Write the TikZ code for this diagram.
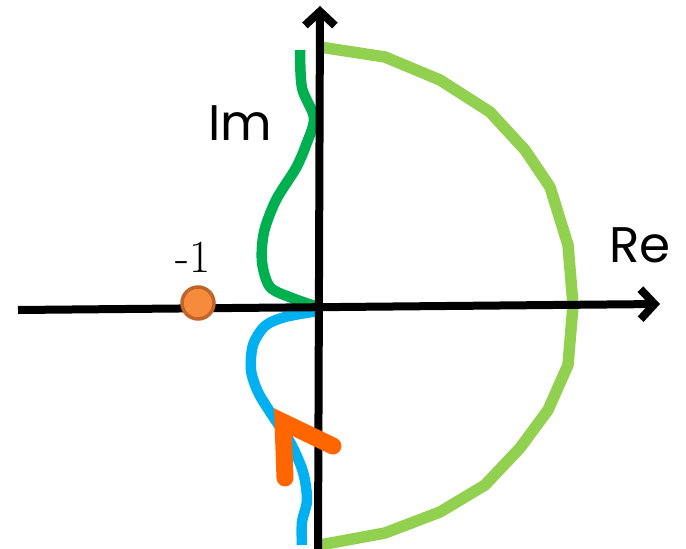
\documentclass[tikz,border=0pt]{standalone}
\usepackage{fontspec}
\newfontfamily\axfont{Poppins}
\usetikzlibrary{arrows.meta}
\definecolor{lgreen}{HTML}{92D050}
\definecolor{dgreen}{HTML}{00B050}
\definecolor{lblue}{HTML}{00B0F0}
\definecolor{arrorange}{HTML}{FF6600}
\definecolor{ptfill}{HTML}{F68B3C}
\definecolor{ptdraw}{HTML}{C0642A}
\tikzset{
  axis/.style={line width=8pt,-{Straight Barb[length=14pt,width=30pt,line width=8pt]}},
  curve/.style={line width=10.5pt,line join=round},
  lab/.style={font=\axfont\fontsize{50}{50}\selectfont,inner sep=0pt},
}
\begin{document}
\begin{tikzpicture}[x=1pt,y=-1pt]
\useasboundingbox (0,0) rectangle (686,549);
% semicircle
\draw[curve,lgreen,line width=11.5pt] (320,47) -- (385,57) -- (440,80) -- (490,112) -- (525,150) -- (550,187) -- (568,245) -- (573,305) -- (568,365) -- (548,410) -- (520,448) -- (485,485) -- (440,512) -- (385,533) -- (320,545);
% dark green
\draw[curve,dgreen] plot[smooth,tension=0.5] coordinates {(300,50) (302,88) (314,118) (306,145) (296,168) (276,200) (264,232) (262,262) (270,287) (292,298) (318,307)};
% blue
\draw[curve,lblue] plot[smooth,tension=0.5] coordinates {(318,311) (285,317) (265,326) (253,345) (251,370) (258,392) (272,415) (290,442) (303,472) (307,500) (302,522) (302,545)};
% axes
\coordinate (xs) at (18,310);
\coordinate (xe) at (660,304);
\coordinate (ys) at (318,549);
\coordinate (ye) at (320,6);
\draw[axis] (xs) -- (xe);
\draw[axis] (ys) -- (ye);
% orange arrow
\draw[arrorange,line width=17pt,line cap=round,line join=miter] (285,478) -- (283,422) -- (333,446);
% point -1
\node[circle,draw=ptdraw,fill=ptfill,line width=3.5pt,minimum size=32pt,inner sep=0pt] (p) at (198,303) {};
\node[font=\fontsize{46}{46}\selectfont,inner sep=0pt,anchor=base] (m1) at (193,272) {-1};
\node[lab,anchor=base] (im) at (240,140) {Im};
\node[lab,anchor=base] (re) at (640,262) {Re};
\end{tikzpicture}
\end{document}
